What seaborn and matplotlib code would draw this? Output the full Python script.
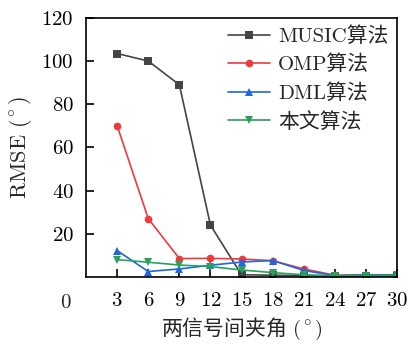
import numpy as np
import pandas as pd
import seaborn as sns
import matplotlib.pyplot as plt

# --- dane ---
angles = [3, 6, 9, 12, 15, 18, 21, 24, 27, 30]
music = [103.5, 100, 89, 24, 1.0, 0.8, 0.6, 0.5, 0.5, 0.5]
omp = [70, 27, 8.5, 8.6, 8.3, 7.5, 3.7, 0.8, 1.0, 1.0]
dml = [12.2, 2.5, 3.7, 5.4, 6.9, 7.6, 3.0, 0.6, 0.9, 1.0]
ours = [8.0, 6.8, 5.5, 4.8, 3.2, 2.0, 1.0, 0.5, 0.6, 0.8]

methods = ['MUSIC算法', 'OMP算法', 'DML算法', '本文算法']
colors = ['#444444', '#f03a3a', '#1f66e0', '#2aa05c']
markers = ['s', 'o', '^', 'v']

df = pd.DataFrame({
    'angle': angles * 4,
    'rmse': music + omp + dml + ours,
    'method': np.repeat(methods, len(angles)),
})

sns.set_theme(style='ticks')
plt.rcParams['font.family'] = ['cmr10', 'Noto Sans CJK SC']
# mathtext: rm = cmr10, it -> czcionka CJK (tylko dla chińskich znaków), symbole z cm
plt.rcParams['mathtext.fontset'] = 'custom'
plt.rcParams['mathtext.rm'] = 'cmr10'
plt.rcParams['mathtext.it'] = 'Noto Sans CJK SC'
plt.rcParams['mathtext.fallback'] = 'cm'
plt.rcParams['axes.formatter.use_mathtext'] = True
plt.rcParams['axes.unicode_minus'] = False

fig = plt.figure(figsize=(4.08, 3.44), dpi=100)
ax = fig.add_axes([0.211, 0.195, 0.762, 0.753])

sns.lineplot(data=df, x='angle', y='rmse', hue='method', style='method',
             palette=colors, markers=markers, dashes=False, ax=ax,
             linewidth=1.2, markersize=5.5, markeredgewidth=0)

ax.set_xlim(0, 30)
ax.set_ylim(0, 120)
ax.set_xticks(angles)
ax.set_yticks([20, 40, 60, 80, 100, 120])
ax.tick_params(direction='in', length=6, width=1.2, colors='black',
               labelsize=15, top=False, right=False)
ax.tick_params(axis='x', pad=11)
ax.tick_params(axis='y', pad=9)
for s in ax.spines.values():
    s.set_linewidth(1.2)
    s.set_color('black')
ax.text(-0.068, -0.1, '0', transform=ax.transAxes, fontsize=15,
        ha='center', va='center')

ax.set_xlabel(r'$\mathit{两信号间夹角}\ (^\circ)$', fontsize=15, labelpad=4)
ax.set_ylabel(r'$\mathrm{RMSE}\ (^\circ)$', fontsize=16, labelpad=5)

leg = ax.legend(loc='upper right', frameon=False, fontsize=15,
                handlelength=2.0, handletextpad=0.4, labelspacing=0.42,
                borderaxespad=0.2, borderpad=0.2)

fig.savefig('out.png', dpi=100)
